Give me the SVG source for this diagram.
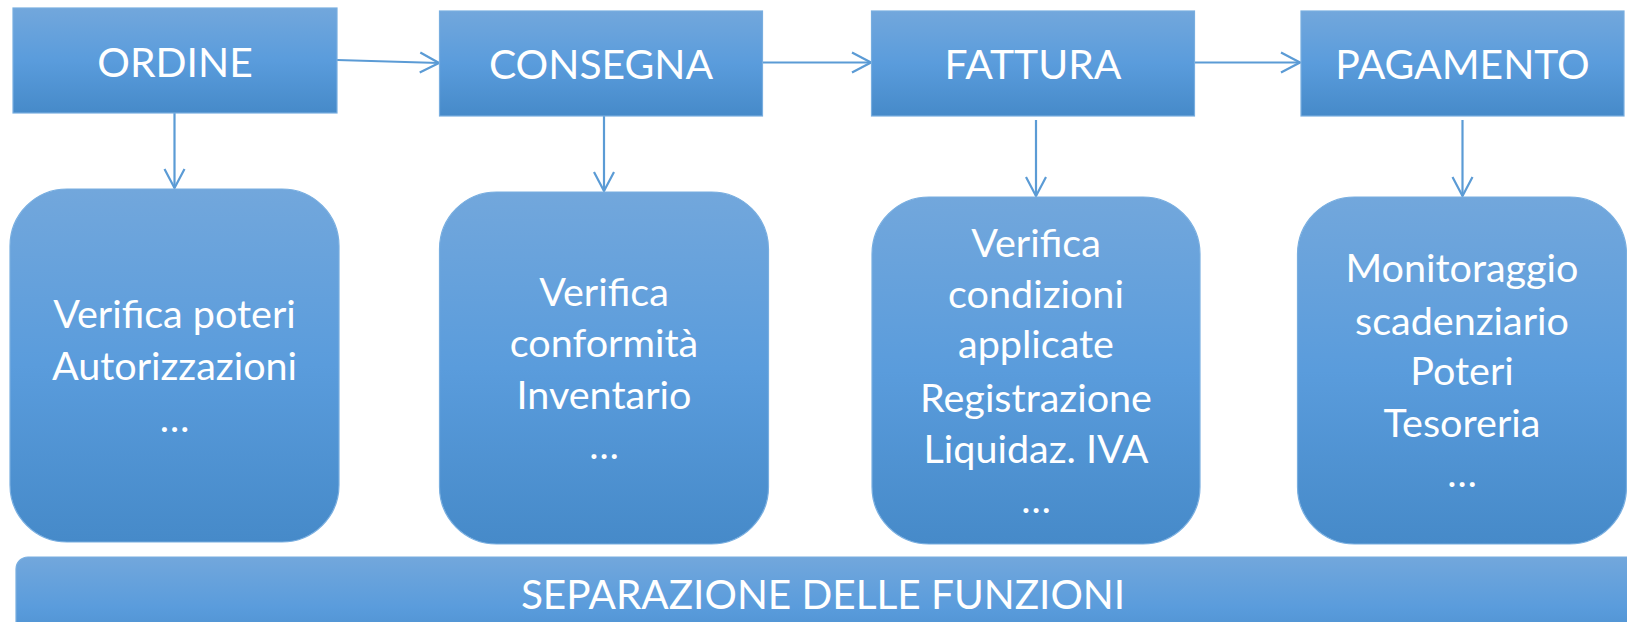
<svg xmlns="http://www.w3.org/2000/svg" width="1627" height="622" viewBox="0 0 1627 622">
<defs>
<linearGradient id="g" x1="0" y1="0" x2="0" y2="1">
<stop offset="0" stop-color="#72a7dc"/>
<stop offset="0.5" stop-color="#5a9cdc"/>
<stop offset="1" stop-color="#468ac9"/>
</linearGradient>
<marker id="ah" markerUnits="userSpaceOnUse" markerWidth="22" markerHeight="24" refX="20" refY="12" orient="auto">
<path d="M1,2 L20,12 L1,22" fill="none" stroke="#5b9bd5" stroke-width="2.2"/>
</marker>
<style>
.box{fill:url(#g);stroke:#78aee0;stroke-width:1.2}
.hd{font-family:Lato,"Liberation Sans",sans-serif;font-size:40.8px;fill:#fff;text-anchor:middle}
.bd{font-family:Lato,"Liberation Sans",sans-serif;font-size:39.5px;fill:#fff;text-anchor:middle}
.ft{font-family:Lato,"Liberation Sans",sans-serif;font-size:40.5px;fill:#fff;text-anchor:middle}
.cn{stroke:#5b9bd5;stroke-width:2.2;fill:none;marker-end:url(#ah)}
</style>
</defs>
<rect width="1627" height="622" fill="#fff"/>
<g id="connectors">
<path class="cn" d="M337,60 L439,63"/>
<path class="cn" d="M763,62.5 L871,62.5"/>
<path class="cn" d="M1195,62.5 L1300,62.5"/>
<path class="cn" d="M174.5,113 L174.5,188"/>
<path class="cn" d="M604,116 L604,191"/>
<path class="cn" d="M1036,120 L1036,196"/>
<path class="cn" d="M1462.5,120 L1462.5,196"/>
</g>
<g id="ordine"><rect class="box" x="13" y="8" width="324" height="105"/><text class="hd" x="175" y="77">ORDINE</text></g>
<g id="consegna"><rect class="box" x="439.5" y="11" width="323" height="105"/><text class="hd" x="601" y="79">CONSEGNA</text></g>
<g id="fattura"><rect class="box" x="871.5" y="11" width="323" height="105"/><text class="hd" x="1033" y="79">FATTURA</text></g>
<g id="pagamento"><rect class="box" x="1301" y="11" width="323" height="105"/><text class="hd" x="1462.5" y="79">PAGAMENTO</text></g>
<g id="box-ordine"><rect class="box" x="10" y="189" width="329" height="353" rx="57"/>
<text class="bd" x="174.5" y="328">Verifica poteri</text>
<text class="bd" x="174.5" y="380">Autorizzazioni</text>
<text class="bd" x="174.5" y="432">…</text></g>
<g id="box-consegna"><rect class="box" x="439.5" y="192" width="329" height="352" rx="57"/>
<text class="bd" x="604" y="306">Verifica</text>
<text class="bd" x="604" y="357">conformità</text>
<text class="bd" x="604" y="409">Inventario</text>
<text class="bd" x="604" y="459">…</text></g>
<g id="box-fattura"><rect class="box" x="872" y="197" width="328" height="347" rx="57"/>
<text class="bd" x="1036" y="257">Verifica</text>
<text class="bd" x="1036" y="308">condizioni</text>
<text class="bd" x="1036" y="358">applicate</text>
<text class="bd" x="1036" y="411.5">Registrazione</text>
<text class="bd" x="1036" y="462.5">Liquidaz. IVA</text>
<text class="bd" x="1036" y="513">…</text></g>
<g id="box-pagamento"><rect class="box" x="1297.5" y="197" width="329" height="347" rx="57"/>
<text class="bd" x="1462" y="282">Monitoraggio</text>
<text class="bd" x="1462" y="335">scadenziario</text>
<text class="bd" x="1462" y="385">Poteri</text>
<text class="bd" x="1462" y="437">Tesoreria</text>
<text class="bd" x="1462" y="487">…</text></g>
<g id="separazione"><rect class="box" x="16" y="557" width="1640" height="100" rx="12"/>
<text class="ft" x="823" y="609">SEPARAZIONE DELLE FUNZIONI</text></g>
</svg>
